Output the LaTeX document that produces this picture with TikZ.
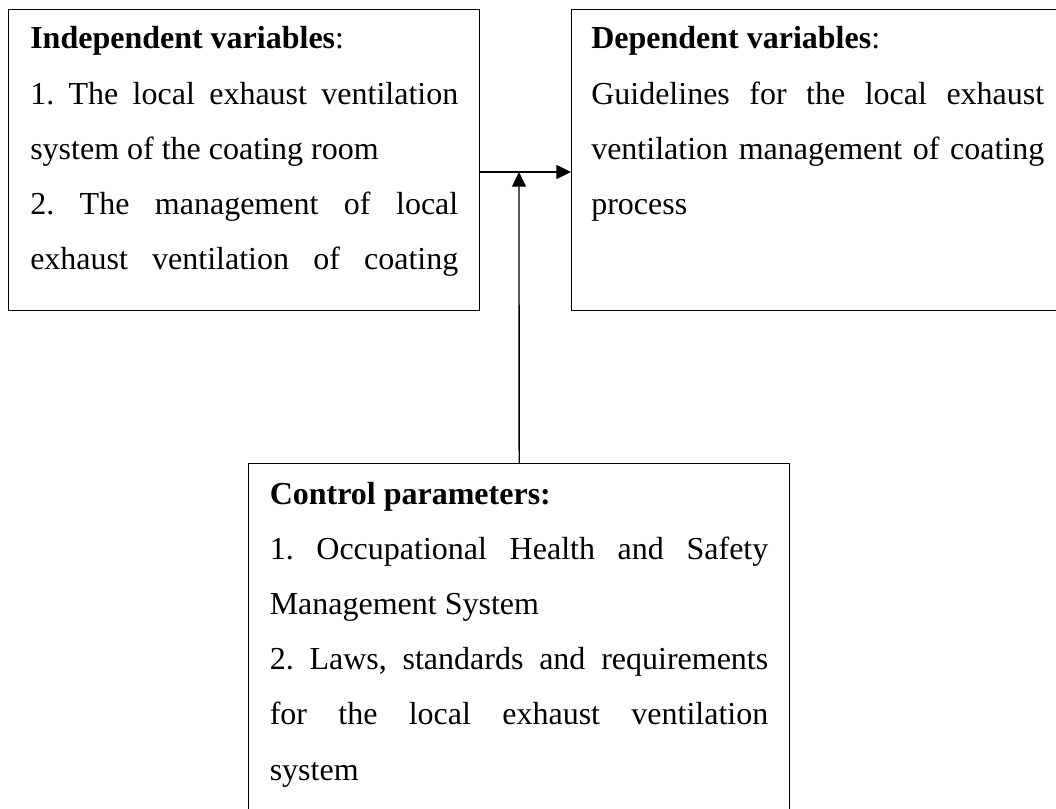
\documentclass[tikz,border=0pt]{standalone}
\usepackage{fontspec}
\setmainfont{Liberation Serif}
\usetikzlibrary{calc}
\usetikzlibrary{arrows.meta}
\tikzset{
box/.style={draw, line width=1pt, inner sep=0pt, anchor=north west},
txt/.style={anchor=base west, inner sep=0pt, align=justify, font=\fontsize{24}{41.4}\selectfont\frenchspacing},
arr/.style={line width=1pt, -{Triangle[length=11pt,width=10.5pt]}}
}
\newcommand{\lastjust}{{\parfillskip=0pt\par}}
\hyphenpenalty=10000

\begin{document}
\begin{tikzpicture}[x=0.75pt,y=0.75pt]
\useasboundingbox (0,0) rectangle (1056,-809);
% boxes
\node[box, minimum width=353.25pt, minimum height=225.75pt] (indep) at (8,-9) {};
\node[box, minimum width=371.25pt, minimum height=225.75pt] (dep) at (571,-9) {};
\node[box, minimum width=405.75pt, minimum height=267.75pt] (ctrl) at (248,-463) {};
% texts
\node[txt, text width=321pt] (indeptxt) at (30,-49) {\textbf{Independent variables}:\\
1. The local exhaust ventilation\linebreak system of the coating room\\
2. The management of local\linebreak exhaust ventilation of coating\lastjust};
\node[txt, text width=339.75pt] (deptxt) at (591,-49) {\textbf{Dependent variables}:\\
Guidelines for the local exhaust\linebreak ventilation management of coating\linebreak process};
\node[txt, text width=373.9pt] (ctrltxt) at (269.5,-504) {\textbf{Control parameters:}\\
1. Occupational Health and Safety\linebreak Management System\\
2. Laws, standards and requirements\linebreak for the local exhaust ventilation\linebreak system};
% arrows
\coordinate (join) at (519,-172);
\draw[arr] (indep.east |- join) -- (dep.west |- join);
\draw[arr] (ctrl.north) -- (join);
\end{tikzpicture}
\end{document}
